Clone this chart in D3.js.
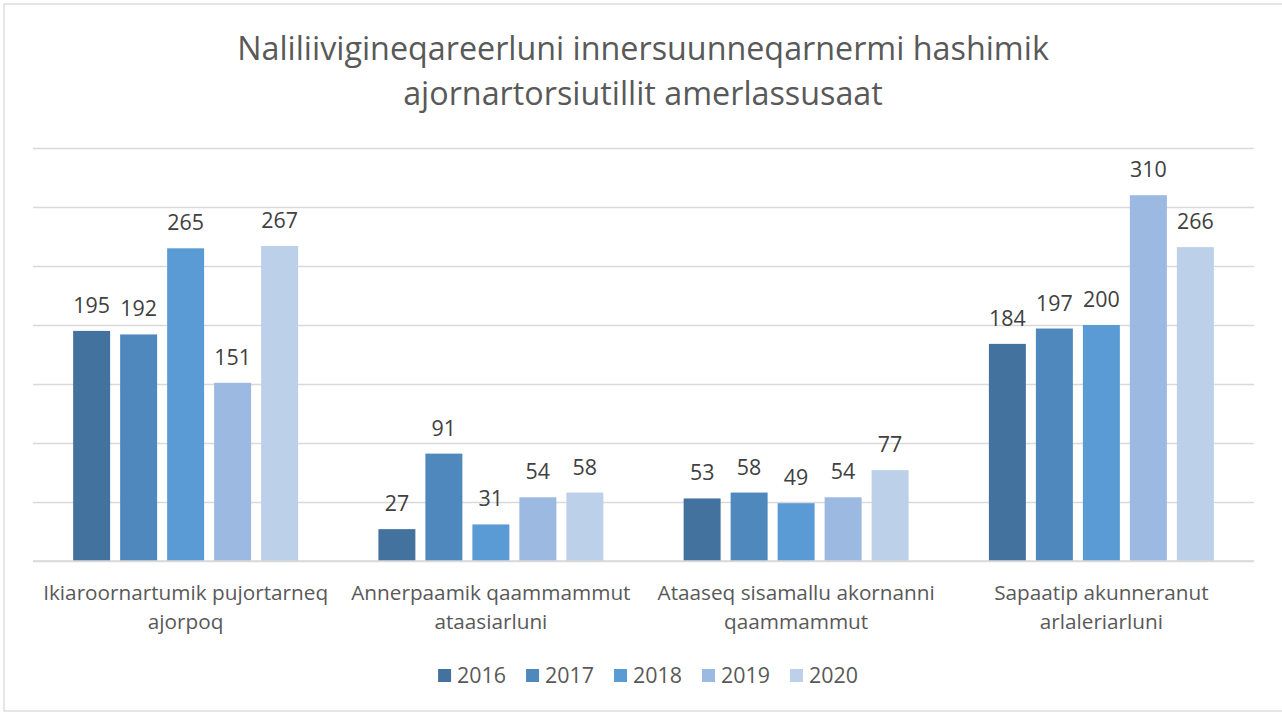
<!DOCTYPE html>
<html><head><meta charset="utf-8">
<script src="https://cdn.jsdelivr.net/npm/d3@7"></script>
<style>body{margin:0;background:#fff}svg{display:block}</style>
</head><body>
<svg id="c" width="1282" height="713"></svg>
<script>
// ---- data ----
const titleLines = ["Naliliivigineqareerluni innersuunneqarnermi hashimik", "ajornartorsiutillit amerlassusaat"];
const categories = ["Ikiaroornartumik pujortarneq\najorpoq", "Annerpaamik qaammammut\nataasiarluni", "Ataaseq sisamallu akornanni\nqaammammut", "Sapaatip akunneranut\narlaleriarluni"];
const years = ["2016", "2017", "2018", "2019", "2020"];
const v2016 = [195, 27, 53, 184];
const v2017 = [192, 91, 58, 197];
const v2018 = [265, 31, 49, 200];
const v2019 = [151, 54, 54, 310];
const v2020 = [267, 58, 77, 266];
const gridTicks = [0, 50, 100, 150, 200, 250, 300, 350];
const colors = ["#43729E", "#4E88BD", "#5B9BD5", "#9BB9E1", "#BDD0EA"];

const seriesValues = [v2016, v2017, v2018, v2019, v2020];
const rows = categories.map((c, i) => ({cat: c, vals: years.map((y, j) => ({year: y, v: seriesValues[j][i], j}))}));

const svg = d3.select("#c");
const FONT = "'Open Sans', sans-serif";
const plot = {left: 33, right: 1254, top: 148, bottom: 561};

// frame
svg.append("rect").attr("x", 4).attr("y", 4).attr("width", 1300).attr("height", 707)
  .attr("fill", "#fff").attr("stroke", "#D9D9D9").attr("stroke-width", 1.3);

function fitSize(text, target, base) {
  const t = svg.append("text").attr("font-family", FONT).attr("font-size", base).text(text);
  const w = t.node().getComputedTextLength();
  t.remove();
  return base * target / w;
}

// title
const titleSize = fitSize(titleLines[0], 812, 30);
svg.append("g").selectAll("text").data(titleLines).join("text")
  .attr("x", 643).attr("y", (d, i) => 60 + i * 45)
  .attr("text-anchor", "middle").attr("font-family", FONT).attr("font-size", titleSize)
  .attr("fill", "#595959").text(d => d);

// scales
const y = d3.scaleLinear().domain([0, 350]).range([plot.bottom, plot.top]);
const x0 = d3.scaleBand().domain(categories).range([plot.left, plot.right]).paddingInner(0.263).paddingOuter(0.1315);
const x1 = d3.scaleBand().domain(years).range([0, x0.bandwidth()]).paddingInner(0.213).paddingOuter(0);
const color = d3.scaleOrdinal().domain(years).range(colors);

// gridlines
const yAxis = d3.axisLeft(y).tickValues(gridTicks).tickSize(-(plot.right - plot.left)).tickFormat("");
const ga = svg.append("g").attr("transform", `translate(${plot.left},0)`).call(yAxis);
ga.select(".domain").remove();
ga.selectAll(".tick line").attr("stroke", "#D9D9D9").attr("stroke-width", 1.3);

// bars
const groups = svg.append("g").selectAll("g").data(rows).join("g")
  .attr("transform", d => `translate(${x0(d.cat)},0)`);
groups.selectAll("rect").data(d => d.vals).join("rect")
  .attr("x", d => x1(d.year)).attr("width", x1.bandwidth())
  .attr("y", d => y(d.v)).attr("height", d => y(0) - y(d.v))
  .attr("fill", d => color(d.year));

// value labels
const labelSize = fitSize("2016", 49, 20);
groups.selectAll("text").data(d => d.vals).join("text")
  .attr("x", d => x1(d.year) + x1.bandwidth() / 2).attr("y", d => y(d.v) - 18)
  .attr("text-anchor", "middle").attr("font-family", FONT).attr("font-size", labelSize)
  .attr("fill", "#404040").text(d => d.v);

// x axis baseline
svg.append("line").attr("x1", plot.left).attr("x2", plot.right).attr("y1", y(0)).attr("y2", y(0))
  .attr("stroke", "#D9D9D9").attr("stroke-width", 1.5);

// category labels
const catSize = fitSize(categories[0].split("\n")[0], 285, 20);
const cl = svg.append("g").selectAll("text").data(categories).join("text")
  .attr("text-anchor", "middle").attr("font-family", FONT).attr("font-size", catSize).attr("fill", "#595959");
cl.selectAll("tspan").data(d => d.split("\n").map(s => ({s, c: d}))).join("tspan")
  .attr("x", d => x0(d.c) + x0.bandwidth() / 2).attr("y", (d, i) => 600 + i * 29).text(d => d.s);

// legend
const lg = svg.append("g");
const items = lg.selectAll("g").data(years).join("g");
items.append("rect").attr("width", 13).attr("height", 13).attr("y", 669).attr("fill", d => color(d));
items.append("text").attr("x", 19).attr("y", 683).attr("font-family", FONT).attr("font-size", labelSize)
  .attr("fill", "#595959").text(d => d);
let cx = 0;
const widths = [];
items.each(function () { widths.push(19 + d3.select(this).select("text").node().getComputedTextLength()); });
const total = d3.sum(widths) + 20 * (widths.length - 1);
let start = 648 - total / 2;
items.attr("transform", (d, i) => { const t = `translate(${start},0)`; start += widths[i] + 20; return t; });
</script>
</body></html>
